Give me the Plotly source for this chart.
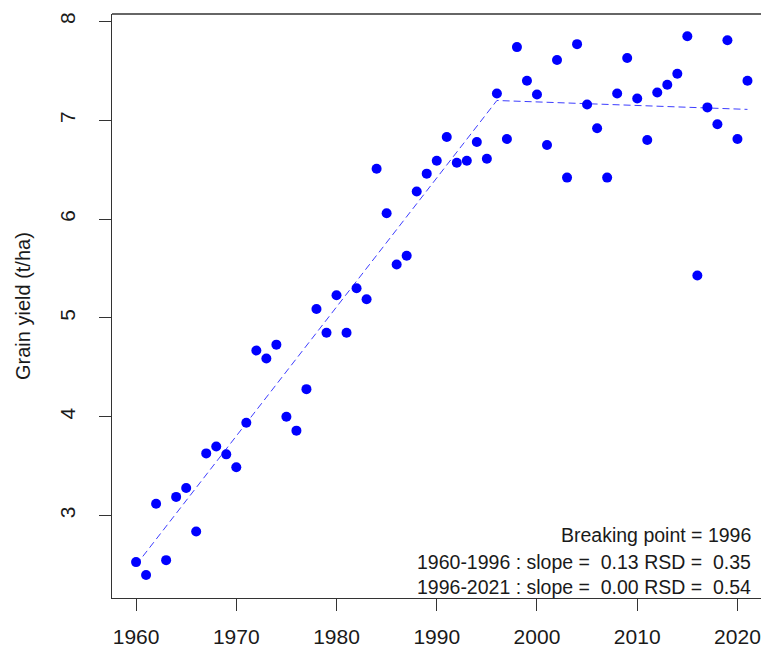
import plotly.graph_objects as go

years = list(range(1960, 2022))
yield_t_ha = [
    2.53, 2.40, 3.12, 2.55, 3.19, 3.28, 2.84, 3.63, 3.70, 3.62,
    3.49, 3.94, 4.67, 4.59, 4.73, 4.00, 3.86, 4.28, 5.09, 4.85,
    5.23, 4.85, 5.30, 5.19, 6.51, 6.06, 5.54, 5.63, 6.28, 6.46,
    6.59, 6.83, 6.57, 6.59, 6.78, 6.61, 7.27, 6.81, 7.74, 7.40,
    7.26, 6.75, 7.61, 6.42, 7.77, 7.16, 6.92, 6.42, 7.27, 7.63,
    7.22, 6.80, 7.28, 7.36, 7.47, 7.85, 5.43, 7.13, 6.96, 7.81,
    6.81, 7.40,
]

fit_years = [1960, 1996, 2021]
fit_values = [2.50, 7.20, 7.11]

x_ticks = [1960, 1970, 1980, 1990, 2000, 2010, 2020]
y_ticks = [3, 4, 5, 6, 7, 8]

notes = [
    "Breaking point = 1996",
    "1960-1996 : slope =\u00a0\u00a00.13 RSD =\u00a0\u00a00.35",
    "1996-2021 : slope =\u00a0\u00a00.00 RSD =\u00a0\u00a00.54",
]

FONT = "Liberation Sans, Arial, sans-serif"
AXC = "#333333"
TXT = "#1a1a1a"

fig = go.Figure()
fig.add_trace(go.Scatter(
    x=fit_years, y=fit_values, mode="lines",
    line=dict(color="rgba(40,40,255,0.9)", width=1, dash="7px,4px"),
    hoverinfo="skip", showlegend=False,
))
fig.add_trace(go.Scatter(
    x=years, y=yield_t_ha, mode="markers",
    marker=dict(color="#0000FF", size=10, line=dict(width=0)),
    showlegend=False,
))

W, H = 761, 648
L, R, T, B = 112, 0, 14, 50

fig.update_layout(
    width=W, height=H,
    margin=dict(l=L, r=R, t=T, b=B),
    paper_bgcolor="white", plot_bgcolor="white",
    font=dict(family=FONT, size=20, color=TXT),
    xaxis=dict(
        range=[1957.6, 2022.35], tickvals=x_ticks,
        ticks="outside", ticklen=12, tickwidth=1.3, tickcolor=AXC,
        showline=True, linecolor=AXC, linewidth=1.3, mirror=False,
        showgrid=False, zeroline=False,
        tickfont=dict(family=FONT, size=21, color=TXT),
        ticklabelstandoff=8,
    ),
    yaxis=dict(
        range=[2.167, 8.075], tickvals=y_ticks,
        ticks="outside", ticklen=12, tickwidth=1.3, tickcolor=AXC,
        showline=True, linecolor=AXC, linewidth=1.3, mirror=False,
        showgrid=False, zeroline=False, tickangle=-90,
        tickfont=dict(family=FONT, size=21, color=TXT),
        ticklabelstandoff=15,
    ),
    shapes=[dict(type="line", xref="paper", yref="paper", x0=0, x1=1, y0=1, y1=1,
                 line=dict(color=AXC, width=1.3))],
)

plot_w = W - L - R
plot_h = H - T - B

# y-axis title
fig.add_annotation(
    text="Grain yield (t/ha)", xref="paper", yref="paper",
    x=(23 - L) / plot_w, y=0.5, textangle=-90, showarrow=False,
    xanchor="center", yanchor="middle",
    font=dict(family=FONT, size=20, color=TXT),
)

note_y_px = [535, 561.7, 586.7]
for txt, ypx in zip(notes, note_y_px):
    fig.add_annotation(
        text=txt, xref="paper", yref="paper",
        x=(752.7 - L) / plot_w, y=(H - B - ypx) / plot_h,
        xanchor="right", yanchor="middle", showarrow=False,
        font=dict(family=FONT, size=19.5, color=TXT),
    )

fig.write_html(
    "out.html",
    config={"displayModeBar": False},
    post_script="document.body.style.margin='0';document.body.style.overflow='hidden';",
)
